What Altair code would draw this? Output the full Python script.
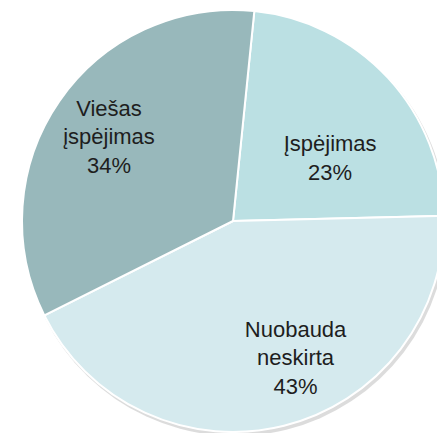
import math
import altair as alt
import pandas as pd

categories = ["Įspėjimas", "Nuobauda neskirta", "Viešas įspėjimas"]
percents = [23, 43, 34]
colors = ["#bbe0e3", "#d5eaee", "#98b8bb"]

df = pd.DataFrame({"category": categories, "pct": percents, "idx": list(range(len(categories)))})

start = 5.8 * math.pi / 180
theta_scale = alt.Scale(domain=[0, 100], range=[start, start + 2 * math.pi])
CX, CY, R = 233, 221, 211

base = alt.Chart(df).encode(
    theta=alt.Theta("pct:Q", stack=True, scale=theta_scale),
    order=alt.Order("idx:Q"),
)

shadow = base.mark_arc(radius=R + 1, opacity=0.35).encode(
    x=alt.value(CX + 2), y=alt.value(CY + 3), color=alt.value("#9a9a9a")
)

pie = base.mark_arc(radius=R, stroke="white", strokeWidth=2).encode(
    x=alt.value(CX), y=alt.value(CY),
    color=alt.Color("category:N", scale=alt.Scale(domain=categories, range=colors), legend=None),
)

label_base = alt.Chart(df).transform_stack(
    stack="pct", groupby=[], as_=["s0", "s1"], sort=[alt.SortField("idx", order="ascending")]
).transform_calculate(
    mid="(datum.s0 + datum.s1) / 2",
    label="replace(datum.category, ' ', '\\n') + '\\n' + datum.pct + '%'",
)

# per-slice label placement (radius, dx, dy)
placement = {
    "Įspėjimas": (116, 12, 2),
    "Nuobauda neskirta": (147, 27, -34),
    "Viešas įspėjimas": (147, -3, -29),
}

label_layers = []
for cat, (rad, ddx, ddy) in placement.items():
    label_layers.append(
        label_base.transform_filter(alt.datum.category == cat).mark_text(
            radius=rad, dx=ddx, dy=ddy, font="Liberation Sans", fontSize=22, color="#1e1e1e",
            lineBreak="\n", lineHeight=28.5, align="center", baseline="middle",
        ).encode(
            theta=alt.Theta("mid:Q", stack=None, scale=theta_scale),
            x=alt.value(CX), y=alt.value(CY), text="label:N",
        )
    )

chart = alt.layer(shadow, pie, *label_layers).properties(
    width=437, height=433, padding=0, background="white",
    autosize=alt.AutoSizeParams(type="none"),
).configure_view(stroke=None)

chart.save("out.html", embed_options={"renderer": "svg", "actions": False})
